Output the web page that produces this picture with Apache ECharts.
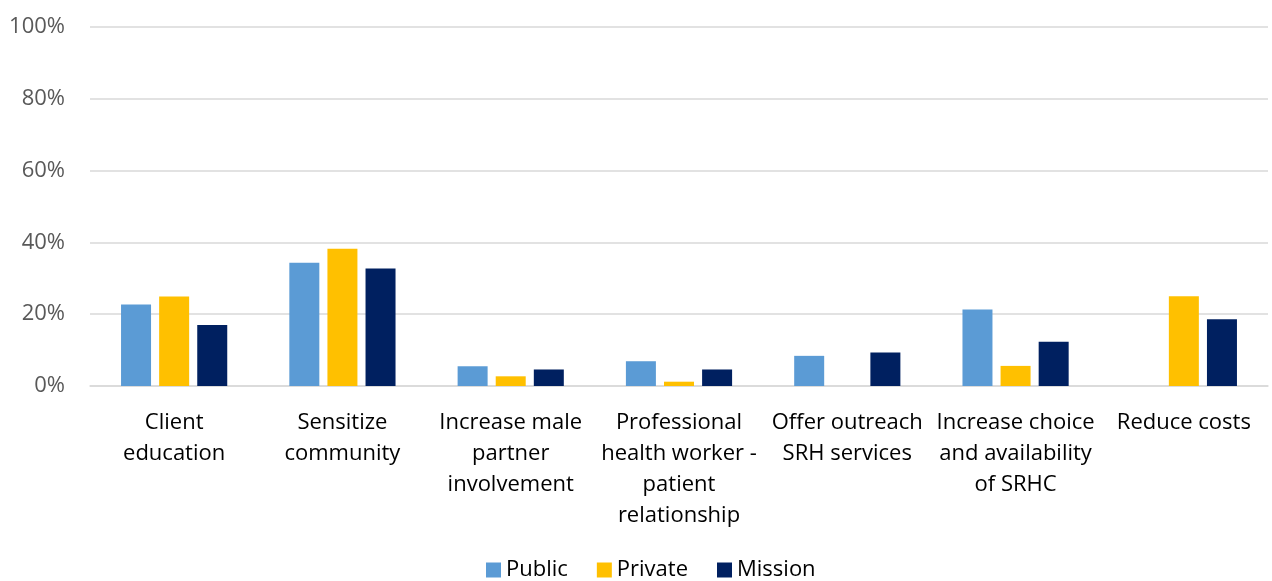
<!DOCTYPE html>
<html>
<head>
<meta charset="utf-8">
<script src="https://cdn.jsdelivr.net/npm/echarts@6/dist/echarts.min.js"></script>
<style>
html, body { margin: 0; padding: 0; background: #fff; }
#chart { width: 1272px; height: 581px; }
</style>
</head>
<body>
<div id="chart"></div>
<script>
// categories and values (percent)
var categories = [
  'Client\neducation',
  'Sensitize\ncommunity',
  'Increase male\npartner\ninvolvement',
  'Professional\nhealth worker -\npatient\nrelationship',
  'Offer outreach\nSRH services',
  'Increase choice\nand availability\nof SRHC',
  'Reduce costs'
];
var publicVals = [22.7, 34.3, 5.5, 6.9, 8.4, 21.3, 0];
var privateVals = [24.9, 38.2, 2.7, 1.2, 0, 5.6, 25.0];
var missionVals = [17.0, 32.7, 4.6, 4.6, 9.3, 12.3, 18.6];

var font = 'Open Sans';

var chart = echarts.init(document.getElementById('chart'));
chart.setOption({
  animation: false,
  textStyle: { fontFamily: font },
  grid: { left: 90, right: 4, top: 27, bottom: 195 },
  legend: {
    left: 481,
    bottom: -5,
    itemWidth: 15,
    itemHeight: 15,
    itemGap: 29,
    icon: 'rect',
    textStyle: { fontSize: 22, color: '#000', fontFamily: font },
    data: ['Public', 'Private', 'Mission']
  },
  xAxis: {
    type: 'category',
    data: categories,
    axisLine: { lineStyle: { color: '#d9d9d9', width: 1.5 } },
    axisTick: { show: false },
    axisLabel: {
      interval: 0,
      margin: 21,
      fontSize: 22,
      lineHeight: 31,
      color: '#000',
      fontFamily: font
    }
  },
  yAxis: {
    type: 'value',
    min: 0,
    max: 100,
    interval: 20,
    axisLine: { show: false },
    axisTick: { show: false },
    splitLine: { lineStyle: { color: '#d9d9d9', width: 1.5 } },
    axisLabel: {
      margin: 25,
      fontSize: 22,
      color: '#595959',
      fontFamily: font,
      formatter: '{value}%'
    }
  },
  series: [
    { name: 'Public', type: 'bar', data: publicVals, barWidth: 30, barGap: '27%',
      itemStyle: { color: '#5B9BD5' } },
    { name: 'Private', type: 'bar', data: privateVals, barWidth: 30, barGap: '27%',
      itemStyle: { color: '#FFC000' } },
    { name: 'Mission', type: 'bar', data: missionVals, barWidth: 30, barGap: '27%',
      itemStyle: { color: '#002060' } }
  ]
});
</script>
</body>
</html>
